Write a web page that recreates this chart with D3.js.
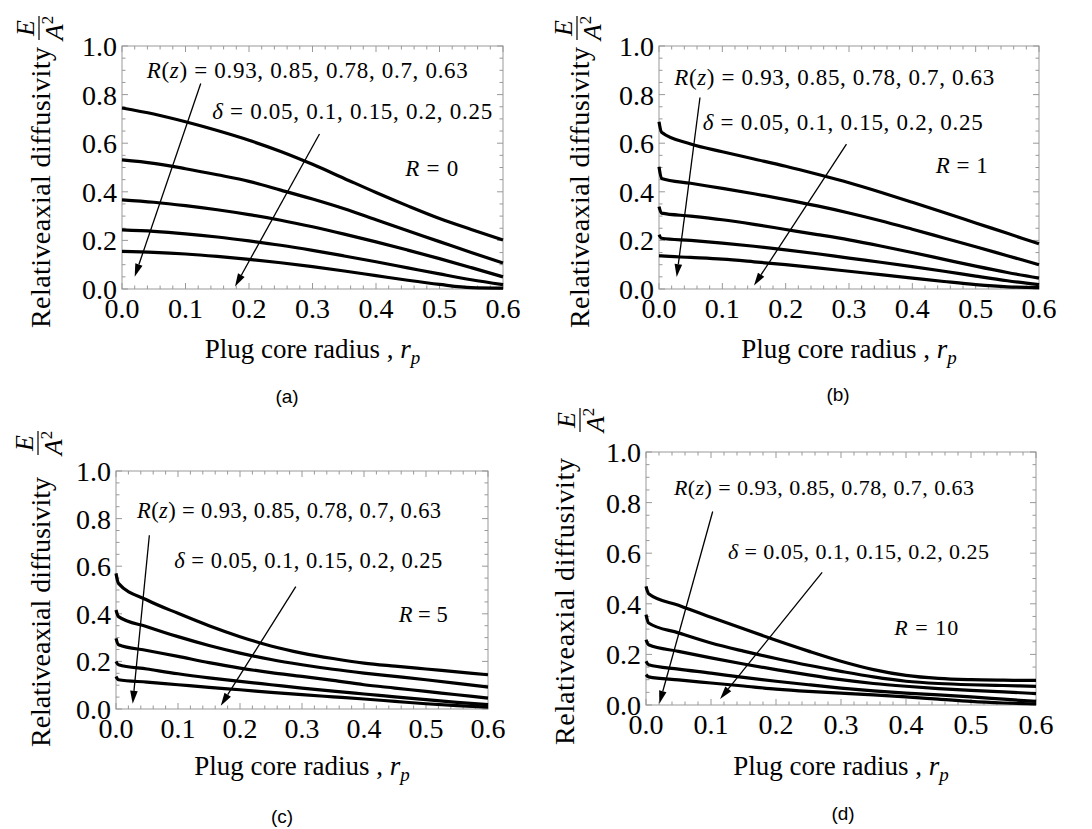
<!DOCTYPE html>
<html>
<head>
<meta charset="utf-8">
<style>
  body { margin: 0; background: white; }
  svg { display: block; }
</style>
<script src="https://cdn.jsdelivr.net/npm/d3@7"></script>
</head>
<body>
<svg id="fig" width="1092" height="829"></svg>
<script>
// plug core radius grid (x values) for each panel
let rp_a = [0, 0.05, 0.1, 0.15, 0.2, 0.25, 0.3, 0.35, 0.4, 0.45, 0.5, 0.55, 0.6]
let rp_bcd = [0, 0.004, 0.05, 0.1, 0.15, 0.2, 0.25, 0.3, 0.35, 0.4, 0.45, 0.5, 0.55, 0.6]

// relative axial diffusivity, one row per R(z)/delta pair
let E_a = [
  [0.745, 0.72, 0.688, 0.652, 0.612, 0.566, 0.513, 0.455, 0.397, 0.342, 0.29, 0.245, 0.202],
  [0.531, 0.517, 0.495, 0.47, 0.443, 0.407, 0.37, 0.33, 0.285, 0.24, 0.195, 0.15, 0.107],
  [0.367, 0.357, 0.343, 0.326, 0.306, 0.283, 0.256, 0.226, 0.194, 0.16, 0.125, 0.088, 0.05],
  [0.243, 0.237, 0.227, 0.214, 0.198, 0.18, 0.159, 0.136, 0.112, 0.087, 0.062, 0.038, 0.018],
  [0.155, 0.151, 0.144, 0.134, 0.122, 0.108, 0.092, 0.074, 0.055, 0.036, 0.019, 0.006, 0.004]
]
let E_b = [
  [0.688, 0.645, 0.597, 0.565, 0.535, 0.505, 0.472, 0.437, 0.398, 0.357, 0.315, 0.272, 0.229, 0.186],
  [0.503, 0.455, 0.435, 0.414, 0.392, 0.368, 0.342, 0.313, 0.281, 0.246, 0.21, 0.174, 0.137, 0.10],
  [0.339, 0.312, 0.3, 0.285, 0.266, 0.245, 0.224, 0.202, 0.177, 0.15, 0.122, 0.094, 0.068, 0.045],
  [0.223, 0.209, 0.2, 0.189, 0.176, 0.161, 0.145, 0.127, 0.11, 0.092, 0.073, 0.053, 0.034, 0.018],
  [0.137, 0.136, 0.13, 0.123, 0.112, 0.1, 0.087, 0.073, 0.059, 0.045, 0.031, 0.018, 0.009, 0.006]
]
let E_c = [
  [0.57, 0.528, 0.458, 0.402, 0.35, 0.304, 0.265, 0.235, 0.212, 0.193, 0.18, 0.168, 0.156, 0.144],
  [0.416, 0.388, 0.346, 0.304, 0.267, 0.235, 0.208, 0.186, 0.167, 0.151, 0.137, 0.123, 0.108, 0.092],
  [0.297, 0.27, 0.246, 0.221, 0.195, 0.172, 0.153, 0.137, 0.12, 0.102, 0.088, 0.074, 0.06, 0.046],
  [0.2, 0.186, 0.168, 0.148, 0.131, 0.116, 0.102, 0.088, 0.075, 0.063, 0.051, 0.039, 0.028, 0.018],
  [0.137, 0.123, 0.113, 0.102, 0.091, 0.081, 0.07, 0.06, 0.051, 0.042, 0.032, 0.022, 0.014, 0.008]
]
let E_d = [
  [0.469, 0.44, 0.394, 0.347, 0.301, 0.256, 0.213, 0.173, 0.14, 0.117, 0.105, 0.1, 0.098, 0.097],
  [0.357, 0.324, 0.285, 0.245, 0.213, 0.184, 0.157, 0.133, 0.111, 0.094, 0.085, 0.08, 0.077, 0.074],
  [0.258, 0.238, 0.212, 0.186, 0.162, 0.14, 0.119, 0.10, 0.085, 0.074, 0.065, 0.058, 0.052, 0.045],
  [0.173, 0.159, 0.142, 0.126, 0.109, 0.094, 0.08, 0.067, 0.056, 0.047, 0.04, 0.032, 0.023, 0.014],
  [0.12, 0.111, 0.099, 0.087, 0.075, 0.063, 0.054, 0.047, 0.04, 0.032, 0.023, 0.014, 0.008, 0.004]
]

// tick labels
let xTicks = [0, 0.1, 0.2, 0.3, 0.4, 0.5, 0.6]
let yTicks = [0, 0.2, 0.4, 0.6, 0.8, 1.0]

// legend text and R values
let rzValues = ["0.93", "0.85", "0.78", "0.7", "0.63"]
let deltaValues = ["0.05", "0.1", "0.15", "0.2", "0.25"]
let Rvalues = ["0", "1", "5", "10"]

// arrows in data units: [x1, y1, x2, y2]
let arrows_a = [[0.124, 0.846, 0.02, 0.05], [0.311, 0.638, 0.178, 0.01]]
let arrows_b = [[0.0647, 0.788, 0.0279, 0.049], [0.296, 0.596, 0.15, 0.014]]
let arrows_c = [[0.0538, 0.73, 0.0269, 0.022], [0.29, 0.514, 0.169, 0.014]]
let arrows_d = [[0.1026, 0.765, 0.0205, 0.005], [0.271, 0.524, 0.114, 0.024]]

// label anchors in data units: R(z) line, delta line, R = .. label
let labels_a = [[0.039, 0.868], [0.142, 0.698], [0.446, 0.465]]
let labels_b = [[0.024, 0.84], [0.069, 0.654], [0.437, 0.477]]
let labels_c = [[0.034, 0.804], [0.094, 0.592], [0.456, 0.367]]
let labels_d = [[0.043, 0.83], [0.126, 0.577], [0.382, 0.277]]

// layout of each panel
let panels = [
  {name: "(a)", R: Rvalues[0], rp: rp_a, E: E_a, arrows: arrows_a, labels: labels_a,
   box: {l: 122, r: 503, t: 46, b: 289}, titleX: 50, titleBottom: 328, titleLen: 281,
   frac: [39, 28], xTitleY: 358, cap: [287, 403], fs: 23, widths: [321, 280, 53]},
  {name: "(b)", R: Rvalues[1], rp: rp_bcd, E: E_b, arrows: arrows_b, labels: labels_b,
   box: {l: 659, r: 1039, t: 46, b: 289}, titleX: 589, titleBottom: 328, titleLen: 281,
   frac: [577, 28], xTitleY: 358, cap: [838, 401], fs: 23, widths: [320, 280, 52]},
  {name: "(c)", R: Rvalues[2], rp: rp_bcd, E: E_c, arrows: arrows_c, labels: labels_c,
   box: {l: 116, r: 488, t: 471, b: 709}, titleX: 50, titleBottom: 747, titleLen: 270,
   frac: [38, 443], xTitleY: 775, cap: [282, 823], fs: 22.5, widths: [304, 268, 49]},
  {name: "(d)", R: Rvalues[3], rp: rp_bcd, E: E_d, arrows: arrows_d, labels: labels_d,
   box: {l: 646, r: 1036, t: 452, b: 705}, titleX: 574, titleBottom: 745, titleLen: 287,
   frac: [580, 420], xTitleY: 775, cap: [843, 820], fs: 22, widths: [300, 261, 64]}
]

const SERIF = "'Liberation Serif', 'Times New Roman', Times, serif"
const SANS = "'Liberation Sans', Arial, Helvetica, sans-serif"

let svg = d3.select("#fig")
let fmt = d3.format(".1f")

function drawPanel(p) {
  let g = svg.append("g").attr("font-family", SERIF)
  let x = d3.scaleLinear().domain([0, 0.6]).range([p.box.l, p.box.r])
  let y = d3.scaleLinear().domain([0, 1]).range([p.box.b, p.box.t])

  // frame
  g.append("rect")
    .attr("x", p.box.l).attr("y", p.box.t)
    .attr("width", p.box.r - p.box.l).attr("height", p.box.b - p.box.t)
    .attr("fill", "none").attr("stroke", "#999").attr("stroke-width", 1)

  // ticks on all four sides, pointing in
  let xMinor = d3.range(0, 0.6001, 0.02)
  let yMinor = d3.range(0, 1.0001, 0.05)
  let isMajor = (v, step) => Math.abs(v / step - Math.round(v / step)) < 1e-6
  xMinor.forEach(v => {
    let len = isMajor(v, 0.1) ? 6 : 3.5
    g.append("line").attr("x1", x(v)).attr("x2", x(v)).attr("y1", p.box.b).attr("y2", p.box.b - len)
      .attr("stroke", "#999")
    g.append("line").attr("x1", x(v)).attr("x2", x(v)).attr("y1", p.box.t).attr("y2", p.box.t + len)
      .attr("stroke", "#999")
  })
  yMinor.forEach(v => {
    let len = isMajor(v, 0.2) ? 6 : 3.5
    g.append("line").attr("y1", y(v)).attr("y2", y(v)).attr("x1", p.box.l).attr("x2", p.box.l + len)
      .attr("stroke", "#999")
    g.append("line").attr("y1", y(v)).attr("y2", y(v)).attr("x1", p.box.r).attr("x2", p.box.r - len)
      .attr("stroke", "#999")
  })

  // tick labels
  g.selectAll(".xl").data(xTicks).enter().append("text")
    .attr("x", d => x(d)).attr("y", p.box.b + 29)
    .attr("text-anchor", "middle").attr("font-size", 28).text(d => fmt(d))
  g.selectAll(".yl").data(yTicks).enter().append("text")
    .attr("x", p.box.l - 5).attr("y", d => y(d) + 10)
    .attr("text-anchor", "end").attr("font-size", 28).text(d => fmt(d))

  // curves
  let line = d3.line().x(d => x(d[0])).y(d => y(d[1])).curve(d3.curveMonotoneX)
  p.E.forEach(row => {
    g.append("path")
      .attr("d", line(row.map((v, i) => [p.rp[i], v])))
      .attr("fill", "none").attr("stroke", "black").attr("stroke-width", 3.2)
  })

  // arrows
  p.arrows.forEach(a => {
    let x1 = x(a[0]), y1 = y(a[1]), x2 = x(a[2]), y2 = y(a[3])
    let ang = Math.atan2(y2 - y1, x2 - x1)
    let hl = 13, hw = 3.8
    let bx = x2 - hl * Math.cos(ang), by = y2 - hl * Math.sin(ang)
    g.append("line").attr("x1", x1).attr("y1", y1).attr("x2", bx).attr("y2", by)
      .attr("stroke", "black").attr("stroke-width", 1.3)
    let pts = [[x2, y2],
      [bx + hw * Math.sin(ang), by - hw * Math.cos(ang)],
      [bx - hw * Math.sin(ang), by + hw * Math.cos(ang)]]
    g.append("polygon").attr("points", pts.map(q => q.join(",")).join(" ")).attr("fill", "black")
  })

  // annotation texts
  let t1 = g.append("text")
    .attr("x", x(p.labels[0][0])).attr("y", y(p.labels[0][1]))
    .attr("font-size", p.fs).attr("textLength", p.widths[0]).attr("lengthAdjust", "spacing")
  t1.append("tspan").attr("font-style", "italic").text("R")
  t1.append("tspan").text("(")
  t1.append("tspan").attr("font-style", "italic").text("z")
  t1.append("tspan").text(") = " + rzValues.join(", "))

  let t2 = g.append("text")
    .attr("x", x(p.labels[1][0])).attr("y", y(p.labels[1][1]))
    .attr("font-size", p.fs).attr("textLength", p.widths[1]).attr("lengthAdjust", "spacing")
  t2.append("tspan").attr("font-style", "italic").text("δ")
  t2.append("tspan").text(" = " + deltaValues.join(", "))

  let t3 = g.append("text")
    .attr("x", x(p.labels[2][0])).attr("y", y(p.labels[2][1]))
    .attr("font-size", p.fs).attr("textLength", p.widths[2]).attr("lengthAdjust", "spacing")
  t3.append("tspan").attr("font-style", "italic").text("R")
  t3.append("tspan").text(" = " + p.R)

  // x axis title
  let xt = g.append("text")
    .attr("x", (p.box.l + p.box.r) / 2).attr("y", p.xTitleY)
    .attr("text-anchor", "middle").attr("font-size", 27)
  xt.append("tspan").text("Plug core radius , ")
  xt.append("tspan").attr("font-style", "italic").text("r")
  xt.append("tspan").attr("font-style", "italic").attr("font-size", 19).attr("dy", 6).text("p")

  // y axis title
  g.append("text")
    .attr("transform", `translate(${p.titleX},${p.titleBottom}) rotate(-90)`)
    .attr("font-size", 28).attr("textLength", p.titleLen).attr("lengthAdjust", "spacing")
    .text("Relativeaxial diffusivity")

  let fr = g.append("g").attr("transform", `translate(${p.frac[0]},${p.frac[1]}) rotate(-90)`)
  fr.append("line").attr("x1", -12).attr("x2", 12).attr("y1", 0).attr("y2", 0)
    .attr("stroke", "black").attr("stroke-width", 1.2)
  fr.append("text").attr("x", 0).attr("y", -5)
    .attr("text-anchor", "middle").attr("font-size", 26).attr("font-style", "italic").text("E")
  let den = fr.append("text").attr("x", 0).attr("y", 24)
    .attr("text-anchor", "middle").attr("font-size", 26)
  den.append("tspan").attr("font-style", "italic").text("A")
  den.append("tspan").attr("font-size", 17).attr("dy", -10).text("2")

  // caption
  g.append("text").attr("font-family", SANS).attr("x", p.cap[0]).attr("y", p.cap[1])
    .attr("text-anchor", "middle").attr("font-size", 19).text(p.name)
}

panels.forEach(drawPanel)
</script>
</body>
</html>
